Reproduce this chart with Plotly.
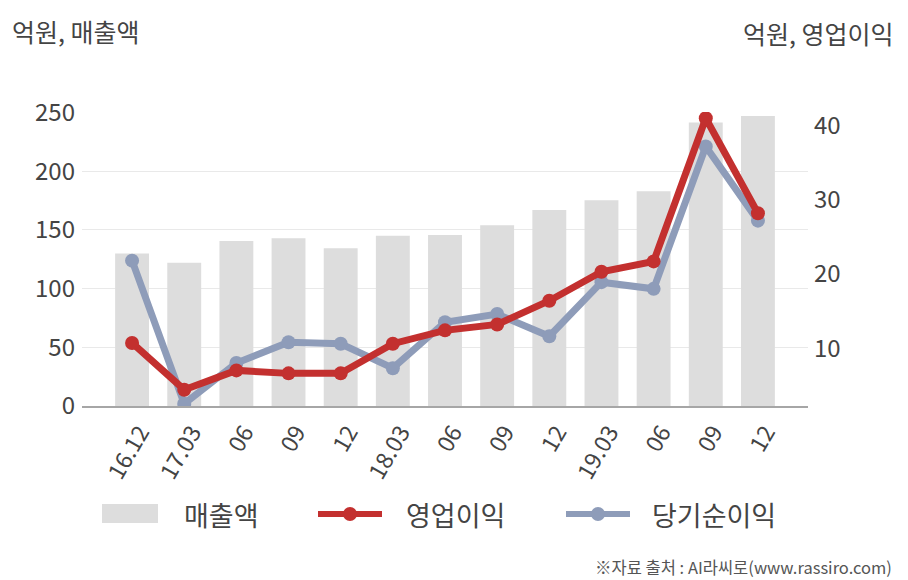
import plotly.graph_objects as go

# ---- data ----
periods = ["16.12", "17.03", "06", "09", "12", "18.03", "06", "09", "12", "19.03", "06", "09", "12"]
sales = [130, 122, 140.5, 143, 134.5, 145, 145.6, 154, 167, 175.4, 183, 241.6, 247]          # 매출액 (left axis)
op_income = [10.7, 4.4, 7.0, 6.6, 6.6, 10.6, 12.4, 13.2, 16.4, 20.3, 21.7, 41.0, 28.2]         # 영업이익 (right axis)
net_income = [21.8, 2.5, 8.0, 10.8, 10.6, 7.3, 13.5, 14.6, 11.6, 18.9, 18.0, 37.2, 27.2]       # 당기순이익 (right axis)
left_ticks = [0, 50, 100, 150, 200, 250]
right_ticks = [10, 20, 30, 40]

FONT = "Noto Sans CJK KR"
BAR_C = "#dddddd"
RED = "#c3302f"
BLUE = "#8e9cb9"
TXT = "#444444"

W, H = 908, 580
L, R, T, B = 82, 100, 112, 174
PW, PH = W - L - R, H - T - B

def px(x):
    return (x - L) / PW

def py(y):
    return (H - B - y) / PH

xs = list(range(len(periods)))

fig = go.Figure()
fig.add_trace(go.Bar(x=xs, y=sales, marker=dict(color=BAR_C, line=dict(width=0)),
                     width=0.65, showlegend=False, hoverinfo="skip"))
fig.add_trace(go.Scatter(x=xs, y=net_income, yaxis="y2", mode="lines+markers",
                         line=dict(color=BLUE, width=7), marker=dict(color=BLUE, size=14),
                         showlegend=False))
fig.add_trace(go.Scatter(x=xs, y=op_income, yaxis="y2", mode="lines+markers",
                         line=dict(color=RED, width=7), marker=dict(color=RED, size=14),
                         showlegend=False))

fig.update_layout(
    width=W, height=H, autosize=False,
    margin=dict(l=L, r=R, t=T, b=B, pad=0),
    paper_bgcolor="white", plot_bgcolor="white",
    font=dict(family=FONT, color=TXT),
    bargap=0.35,
    xaxis=dict(range=[-0.96, 12.96], tickvals=xs, ticktext=periods, tickangle=-60,
               tickfont=dict(size=23, color=TXT), showgrid=False, zeroline=False,
               showline=True, linecolor="#a6a6a6", linewidth=1.5, ticks="", fixedrange=True,
               ticklabelshift=8, ticklabelstandoff=2),
    yaxis=dict(range=[0, 250.5], tickvals=left_ticks, tickfont=dict(size=24, color=TXT),
               showgrid=True, gridcolor="#e9e9e9", gridwidth=1, zeroline=False,
               showline=False, ticks="", ticklabelstandoff=6),
    yaxis2=dict(range=[2.2, 41.85], tickvals=right_ticks, overlaying="y", side="right",
                tickfont=dict(size=24, color=TXT), showgrid=False, zeroline=False,
                showline=False, ticks="", ticklabelstandoff=5),
)

ann = []
ann.append(dict(text="억원, 매출액", x=px(10), y=py(31), xref="paper", yref="paper",
                xanchor="left", yanchor="middle", showarrow=False, font=dict(size=25, color=TXT)))
ann.append(dict(text="억원, 영업이익", x=px(896), y=py(33), xref="paper", yref="paper",
                xanchor="right", yanchor="middle", showarrow=False, font=dict(size=25, color=TXT)))
ann.append(dict(text="※자료 출처 : AI라씨로(www.rassiro.com)", x=px(894), y=py(567),
                xref="paper", yref="paper", xanchor="right", yanchor="middle", showarrow=False,
                font=dict(size=16.5, color="#555555")))

LEG_Y = 514
legend_items = [("매출액", 182), ("영업이익", 404), ("당기순이익", 650)]
for name, xl in legend_items:
    ann.append(dict(text=name, x=px(xl), y=py(LEG_Y), xref="paper", yref="paper",
                    xanchor="left", yanchor="middle", showarrow=False,
                    font=dict(size=27, color=TXT)))

shapes = []
shapes.append(dict(type="rect", xref="paper", yref="paper", x0=px(102), x1=px(158),
                   y0=py(523), y1=py(504), fillcolor=BAR_C, line=dict(width=0)))
for color, x0, x1 in [(RED, 318, 382), (BLUE, 566, 630)]:
    shapes.append(dict(type="line", xref="paper", yref="paper", x0=px(x0), x1=px(x1),
                       y0=py(LEG_Y), y1=py(LEG_Y), line=dict(color=color, width=6)))
    cx = (x0 + x1) / 2
    shapes.append(dict(type="circle", xref="paper", yref="paper", x0=px(cx - 7), x1=px(cx + 7),
                       y0=py(LEG_Y + 7), y1=py(LEG_Y - 7), fillcolor=color, line=dict(width=0)))

fig.update_layout(annotations=ann, shapes=shapes)
fig.write_html("out.html")
